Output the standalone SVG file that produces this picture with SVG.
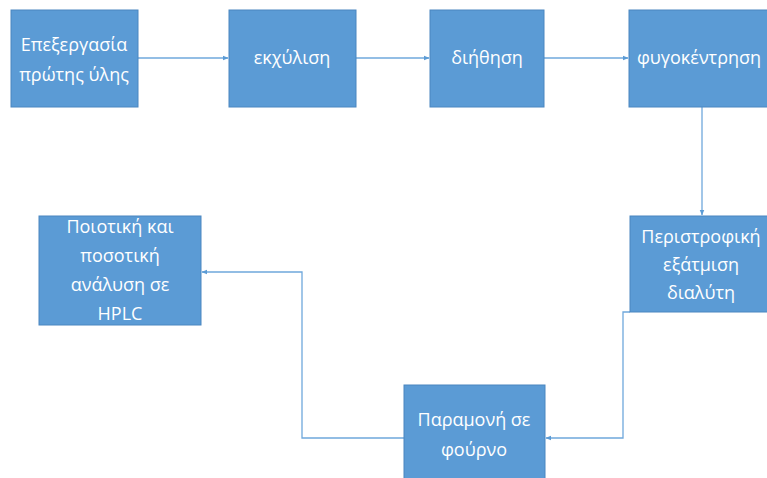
<svg xmlns="http://www.w3.org/2000/svg" width="767" height="478" viewBox="0 0 767 478">
<defs>
<style>
.box{fill:#5B9BD5;stroke:#4A86C0;stroke-width:1}
.t{fill:#FFFFFF;font-family:"Open Sans","Liberation Sans",sans-serif;font-size:18px;text-anchor:middle}
.c{fill:none;stroke:#6FA8DC;stroke-width:1.3}
</style>
<marker id="ah" viewBox="0 0 10 10" refX="9" refY="5" markerWidth="6" markerHeight="6" orient="auto" markerUnits="userSpaceOnUse">
<path d="M0,1 L10,5 L0,9 Z" fill="#5B9BD5"/>
</marker>
</defs>
<rect width="767" height="478" fill="#FFFFFF"/>
<g id="connectors">
<path class="c" d="M138,58 H228" marker-end="url(#ah)"/>
<path class="c" d="M356,58 H429" marker-end="url(#ah)"/>
<path class="c" d="M544,58 H628" marker-end="url(#ah)"/>
<path class="c" d="M702,107 V215" marker-end="url(#ah)"/>
<path class="c" d="M630,312 H623 V438 H546" marker-end="url(#ah)"/>
<path class="c" d="M404,438 H302 V272 H202" marker-end="url(#ah)"/>
</g>
<g id="n1">
<rect class="box" x="11" y="10" width="127" height="97"/>
<text class="t" x="74" y="51">Επεξεργασία</text>
<text class="t" x="74" y="81">πρώτης ύλης</text>
</g>
<g id="n2">
<rect class="box" x="229" y="10" width="127" height="97"/>
<text class="t" x="292" y="64">εκχύλιση</text>
</g>
<g id="n3">
<rect class="box" x="430" y="10" width="114" height="97"/>
<text class="t" x="487" y="64">διήθηση</text>
</g>
<g id="n4">
<rect class="box" x="629" y="10" width="142" height="97"/>
<text class="t" x="699" y="64">φυγοκέντρηση</text>
</g>
<g id="n5">
<rect class="box" x="630" y="216" width="142" height="96"/>
<text class="t" x="701" y="243">Περιστροφική</text>
<text class="t" x="701" y="271">εξάτμιση</text>
<text class="t" x="701" y="299">διαλύτη</text>
</g>
<g id="n6">
<rect class="box" x="404" y="385" width="141" height="100"/>
<text class="t" x="474" y="426">Παραμονή σε</text>
<text class="t" x="474" y="456">φούρνο</text>
</g>
<g id="n7">
<rect class="box" x="39" y="216" width="162" height="109"/>
<text class="t" x="120" y="233">Ποιοτική και</text>
<text class="t" x="120" y="262">ποσοτική</text>
<text class="t" x="120" y="291">ανάλυση σε</text>
<text class="t" x="120" y="320">HPLC</text>
</g>
</svg>
